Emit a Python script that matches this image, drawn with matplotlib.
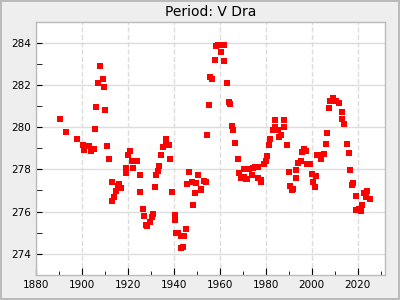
import matplotlib
matplotlib.use('Agg')
import matplotlib.pyplot as plt
from matplotlib.ticker import MultipleLocator

# years of maximum and measured period (days) of V Dra
years = [1890.4, 1893.4, 1898.2, 1900.4, 1901.2, 1903.0, 1904.3, 1905.3, 1906.0, 1906.4,
         1907.3, 1908.2, 1909.1, 1909.9, 1910.2, 1911.1, 1912.1, 1913.0, 1913.4, 1914.3,
         1915.1, 1915.9, 1916.2, 1916.3, 1917.2, 1919.1, 1919.5, 1920.2, 1921.2, 1922.1,
         1922.5, 1923.3, 1924.3, 1925.2, 1925.6, 1926.5, 1927.3, 1928.1, 1928.6, 1929.7,
         1930.4, 1931.0, 1931.7, 1932.5, 1933.4, 1933.8, 1934.7, 1935.6, 1936.5, 1936.9,
         1937.8, 1938.6, 1939.5, 1940.4, 1940.7, 1941.1, 1941.7, 1943.0, 1944.7, 1943.0,
         1943.9, 1945.6, 1946.0, 1946.9, 1947.8, 1948.6, 1949.1, 1949.9, 1950.8, 1951.7,
         1952.1, 1953.0, 1953.9, 1954.7, 1955.2, 1956.0, 1956.9, 1957.8, 1958.6, 1959.5,
         1960.4, 1960.8, 1961.7, 1962.1, 1963.0, 1963.9, 1964.7, 1965.6, 1966.0, 1966.9,
         1967.8, 1968.6, 1969.1, 1970.4, 1970.8, 1971.3, 1971.7, 1972.1, 1972.6, 1973.9,
         1974.7, 1975.6, 1976.5, 1976.9, 1977.8, 1978.2, 1979.1, 1980.0, 1980.8, 1981.3,
         1982.1, 1983.0, 1983.9, 1984.3, 1985.2, 1986.0, 1986.9, 1987.8, 1988.2, 1989.1,
         1990.0, 1990.8, 1991.3, 1992.1, 1993.0, 1993.4, 1994.3, 1995.2, 1996.0, 1996.9,
         1997.4, 1998.2, 1999.1, 2000.0, 2000.4, 2001.3, 2001.7, 2002.4, 2003.0, 2003.9,
         2004.3, 2005.2, 2006.1, 2006.5, 2007.4, 2008.2, 2009.1, 2010.0, 2010.8, 2012.1,
         2013.0, 2013.4, 2014.3, 2015.2, 2016.1, 2016.5, 2017.4, 2018.2, 2019.1, 2019.5,
         2020.4, 2021.3, 2022.1, 2022.6, 2023.5, 2024.3, 2025.2]
periods = [280.37, 279.77, 279.42, 279.14, 278.92, 279.11, 278.87, 278.97, 279.91, 280.93,
           282.08, 282.91, 282.27, 281.88, 280.81, 279.10, 278.50, 277.41, 276.50, 276.70,
           276.97, 277.19, 277.25, 277.30, 277.11, 277.83, 278.06, 278.67, 278.86, 278.39,
           278.06, 278.39, 278.39, 277.73, 276.92, 276.12, 275.79, 275.37, 275.30, 275.48,
           275.75, 275.89, 277.16, 277.73, 277.93, 278.15, 278.67, 279.05, 279.42, 279.33,
           279.14, 278.48, 276.92, 275.82, 275.60, 274.99, 275.00, 274.86, 274.86, 274.25,
           274.34, 275.18, 277.30, 277.87, 277.40, 276.31, 276.88, 277.35, 277.73, 277.07,
           277.02, 277.44, 277.40, 279.61, 281.03, 282.36, 282.30, 283.20, 283.83, 283.90,
           283.90, 283.58, 283.90, 283.15, 282.07, 281.17, 281.08, 280.04, 279.85, 279.24,
           278.48, 277.82, 277.58, 277.63, 278.01, 277.54, 278.01, 277.54, 278.01, 277.73,
           278.06, 278.10, 278.10, 277.58, 277.49, 277.40, 278.25, 278.39, 278.62, 279.14,
           279.42, 279.85, 279.99, 280.32, 279.85, 279.52, 279.61, 280.32, 279.99, 279.14,
           277.87, 277.21, 277.02, 277.07, 277.58, 277.96, 278.29, 278.39, 278.81, 278.95,
           278.86, 278.25, 278.25, 277.77, 277.40, 277.16, 277.68, 278.67, 278.67, 278.67,
           278.48, 278.72, 279.19, 279.71, 280.89, 281.22, 281.36, 281.26, 281.22, 281.14,
           280.70, 280.37, 280.13, 279.19, 278.76, 277.96, 277.25, 277.35, 276.74, 276.08,
           276.12, 276.03, 276.31, 276.88, 276.69, 276.97, 276.59]

fig = plt.figure(figsize=(4, 3), dpi=100, facecolor='#eeeeee',
                 edgecolor='#bbbbbb', linewidth=1.5)
ax = fig.add_axes([0.089, 0.084, 0.874, 0.844])
ax.set_facecolor('white')

ax.plot(years, periods, 's', color='red', markersize=4.5, markeredgewidth=0,
        linestyle='none', zorder=3)

ax.set_xlim(1880, 2032)
ax.set_ylim(273, 285)
ax.xaxis.set_major_locator(MultipleLocator(20))
ax.xaxis.set_minor_locator(MultipleLocator(10))
ax.yaxis.set_major_locator(MultipleLocator(2))
ax.yaxis.set_minor_locator(MultipleLocator(1))

ax.grid(axis='x', which='major', color='#dddddd', linestyle='--', linewidth=1)
ax.grid(axis='y', which='major', color='#dddddd', linestyle='-', linewidth=1)
ax.set_axisbelow(True)

ax.tick_params(which='both', direction='in', labelsize=7.5, color='black')
ax.tick_params(axis='x', which='major', length=5)
ax.tick_params(axis='x', which='minor', length=3)
ax.tick_params(axis='y', which='both', length=4)
for s in ax.spines.values():
    s.set_color('#bbbbbb')
    s.set_linewidth(1)

ax.set_title('Period: V Dra', fontsize=10, pad=4)

fig.savefig('out.png', dpi=100, facecolor=fig.get_facecolor(), edgecolor=fig.get_edgecolor())
